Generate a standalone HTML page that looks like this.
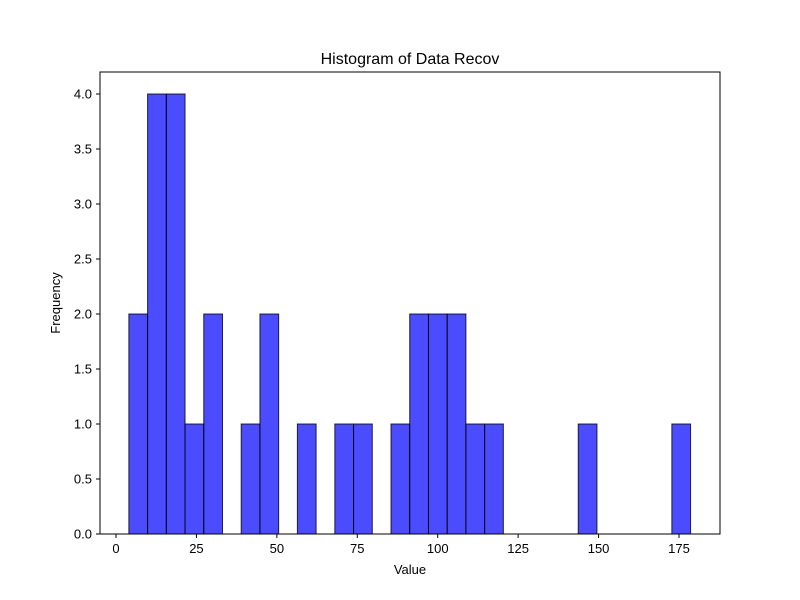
<!DOCTYPE html>
<html><head><meta charset="utf-8"><style>
body{margin:0;background:#fff;}
svg{display:block;font-family:"Liberation Sans","DejaVu Sans",sans-serif;}
</style></head><body>
<svg id="chart" width="800" height="600" viewBox="0 0 800 600">
<rect width="800" height="600" fill="#fff"/>
<text x="410" y="64" text-anchor="middle" font-size="16">Histogram of Data Recov</text>
<g id="bars"></g>
<g id="axes"></g>
<rect x="100" y="72" width="620" height="462" fill="none" stroke="#000" stroke-width="1"/>
<text x="410" y="574" text-anchor="middle" font-size="13">Value</text>
<text x="60" y="303" text-anchor="middle" font-size="13" transform="rotate(-90 60 303)">Frequency</text>
</svg>
<script>
const binStart = 4.0;
const binWidth = 5.82;
const counts = [2,4,4,1,2,0,1,2,0,1,0,1,1,0,1,2,2,2,1,1,0,0,0,0,1,0,0,0,0,1];
const xTicks = [0,25,50,75,100,125,150,175];
const yTicks = [0,0.5,1,1.5,2,2.5,3,3.5,4];
const yTickLabels = ["0.0","0.5","1.0","1.5","2.0","2.5","3.0","3.5","4.0"];

const NS="http://www.w3.org/2000/svg";
const xs = v => 116 + v*(563/175);
const ys = v => 534 - v*110;
const bars=document.getElementById('bars'), axes=document.getElementById('axes');
counts.forEach((c,i)=>{
  if(!c) return;
  const x0=xs(binStart+i*binWidth), x1=xs(binStart+(i+1)*binWidth);
  const r=document.createElementNS(NS,'rect');
  r.setAttribute('x',x0);r.setAttribute('y',ys(c));
  r.setAttribute('width',x1-x0);r.setAttribute('height',ys(0)-ys(c));
  r.setAttribute('fill','rgba(0,0,255,0.7)');r.setAttribute('stroke','rgba(0,0,0,0.8)');
  
  
  bars.appendChild(r);
});
xTicks.forEach(t=>{
  const x=xs(t);
  const l=document.createElementNS(NS,'line');
  l.setAttribute('x1',x);l.setAttribute('x2',x);l.setAttribute('y1',534);l.setAttribute('y2',538);l.setAttribute('stroke','#000');
  
  
  axes.appendChild(l);
  const tx=document.createElementNS(NS,'text');
  tx.setAttribute('x',x);tx.setAttribute('y',553);tx.setAttribute('text-anchor','middle');tx.setAttribute('font-size','13');
  tx.textContent=t;
  
  
  axes.appendChild(tx);
});
yTicks.forEach((t,i)=>{
  const y=ys(t);
  const l=document.createElementNS(NS,'line');
  l.setAttribute('x1',96);l.setAttribute('x2',100);l.setAttribute('y1',y);l.setAttribute('y2',y);l.setAttribute('stroke','#000');
  
  
  axes.appendChild(l);
  const tx=document.createElementNS(NS,'text');
  tx.setAttribute('x',92);tx.setAttribute('y',y+4.5);tx.setAttribute('text-anchor','end');tx.setAttribute('font-size','13');
  tx.textContent=yTickLabels[i];
  
  
  axes.appendChild(tx);
});
</script>
</body></html>
